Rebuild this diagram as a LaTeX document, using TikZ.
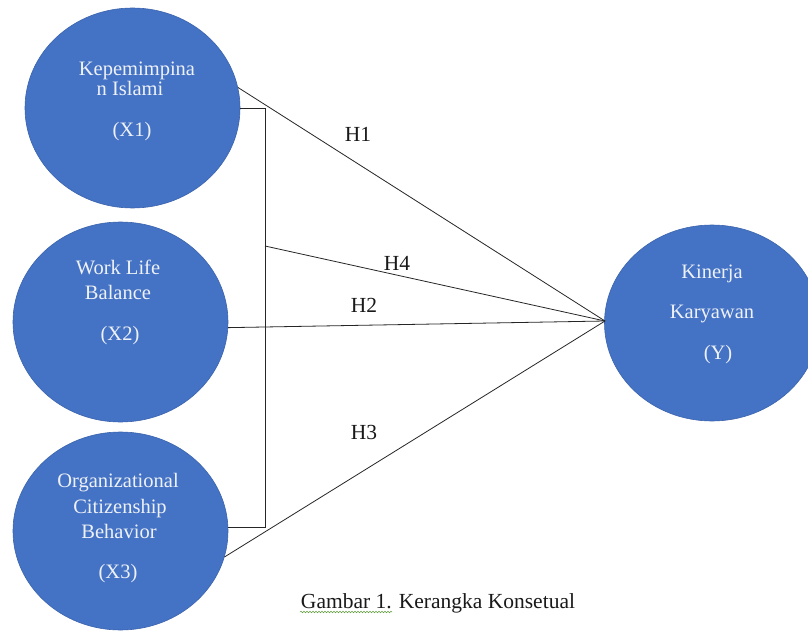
\documentclass[tikz,border=0pt]{standalone}
\usepackage{fontspec}
\setmainfont{Liberation Serif}
\usetikzlibrary{shapes.geometric,decorations.pathmorphing}
\definecolor{circblue}{HTML}{4472C4}
\definecolor{circedge}{HTML}{3B64AD}
\definecolor{circtext}{HTML}{EEF2F8}
\definecolor{spellgreen}{HTML}{5E9C3C}
\tikzset{
  var/.style={ellipse, fill=circblue, draw=circedge, line width=0.6pt, minimum width=215pt, minimum height=200pt, inner sep=0pt},
  ctext/.style={anchor=base, text=circtext, inner sep=0pt, font=\fontsize{20.5}{24}\selectfont},
  hlabel/.style={anchor=base, inner sep=0pt, text=black!90, font=\fontsize{21.5}{26}\selectfont},
  conn/.style={draw=black!85, line width=0.8pt}
}
\begin{document}
\begin{tikzpicture}[x=1pt,y=-1pt]
\useasboundingbox (0,0) rectangle (808,631);
\clip (0,0) rectangle (808,631);
\fill[white] (0,0) rectangle (808,631);

% variables
\node[var] (X1) at (132.5,108) {};
\node[var] (X2) at (120.5,322) {};
\node[var, minimum height=198pt] (X3) at (120.5,531) {};
\node[var, minimum height=196pt] (Y) at (712,323) {};

% texts in circles
\node[ctext] (t1a) at (137,76) {Kepemimpina};
\node[ctext] (t1b) at (130,96) {n Islami};
\node[ctext] (t1c) at (132,137) {(X1)};
\node[ctext] (t2a) at (118,274) {Work Life};
\node[ctext] (t2b) at (118,299) {Balance};
\node[ctext] (t2c) at (120,340) {(X2)};
\node[ctext] (t3a) at (118,487) {Organizational};
\node[ctext] (t3b) at (120,513) {Citizenship};
\node[ctext] (t3c) at (119,538) {Behavior};
\node[ctext] (t3d) at (118,578) {(X3)};
\node[ctext] (tya) at (712,278) {Kinerja};
\node[ctext] (tyb) at (712,318) {Karyawan};
\node[ctext] (tyc) at (718,359) {(Y)};

% connectors
\coordinate (conv) at (605,321);
\coordinate (bt) at (265,108);
\coordinate (bb) at (265,527);
\coordinate (bm) at (265,246);
\draw[conn] (X1.east) -- (bt) -- (bb) -- (bb -| X3.east);
\draw[conn] (X1.11) -- (conv);
\draw[conn] (bm) -- (conv);
\draw[conn] (X2.-3) -- (conv);
\draw[conn] (X3.-14) -- (conv);

% labels
\node[hlabel] (h1) at (358,142) {H1};
\node[hlabel] (h4) at (397,270) {H4};
\node[hlabel] (h2) at (364,312) {H2};
\node[hlabel] (h3) at (364,439) {H3};

% caption
\node[anchor=base, inner sep=0pt, text=black!90, font=\fontsize{21.5}{26}\selectfont] (cap) at (438,608) {Gambar 1. Kerangka Konsetual};
\coordinate (ul1) at (300,612);
\coordinate (ul2) at (392,612);
\draw[spellgreen, line width=0.5pt, decorate, decoration={snake, amplitude=0.8pt, segment length=3pt}] (ul1) -- (ul2);
\end{tikzpicture}
\end{document}
